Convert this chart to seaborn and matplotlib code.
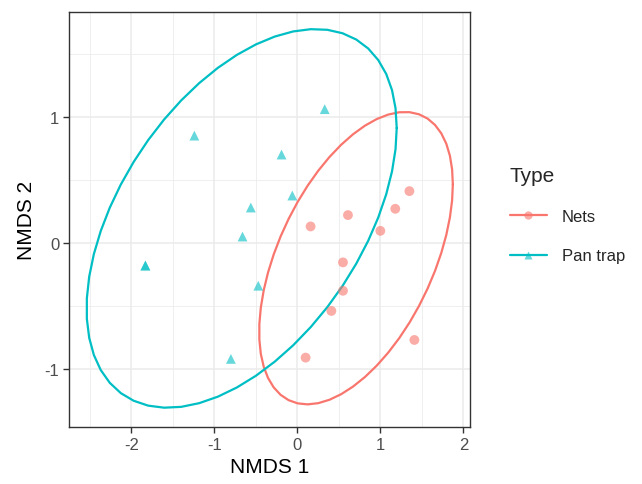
import numpy as np
import pandas as pd
import seaborn as sns
import matplotlib
matplotlib.use("Agg")
import matplotlib.pyplot as plt
from matplotlib.lines import Line2D
from matplotlib.ticker import MultipleLocator

# ---- data ----
nets_x = [1.35, 1.18, 0.61, 0.16, 1.00, 0.55, 0.55, 0.41, 1.41, 0.10]
nets_y = [0.41, 0.27, 0.22, 0.13, 0.095, -0.155, -0.38, -0.54, -0.77, -0.91]
pan_x = [0.33, -1.24, -0.19, -0.06, -0.56, -0.66, -1.83, -1.83, -0.47, -0.80]
pan_y = [1.06, 0.85, 0.70, 0.375, 0.28, 0.05, -0.18, -0.18, -0.34, -0.92]
types = ["Nets", "Pan trap"]
colors = {"Nets": "#F8766D", "Pan trap": "#00BFC4"}
x_ticks = [-2, -1, 0, 1, 2]
y_ticks = [-1, 0, 1]

df = pd.DataFrame({
    "NMDS1": nets_x + pan_x,
    "NMDS2": nets_y + pan_y,
    "Type": ["Nets"] * len(nets_x) + ["Pan trap"] * len(pan_x),
})


def cov_trob(x, nu=5, maxit=25, tol=0.01):
    n, p = x.shape
    wt = np.ones(n)
    loc = x.mean(axis=0)
    w = np.sqrt(wt)
    X = x - loc
    for _ in range(maxit):
        w0 = w
        X = x - loc
        _, d, vt = np.linalg.svd(np.sqrt(w / w.sum())[:, None] * X, full_matrices=False)
        wX = X @ vt.T @ np.diag(1 / d)
        Q = (wX ** 2).sum(axis=1)
        w = (wt * (nu + p)) / (nu + Q)
        loc = (w[:, None] * x).sum(axis=0) / w.sum()
        if np.all(np.abs(w - w0) < tol):
            break
    cov = (np.sqrt(w)[:, None] * X).T @ (np.sqrt(w)[:, None] * X) / wt.sum()
    return loc, cov


def ellipse(x, level=0.95, segments=51):
    n = x.shape[0]
    loc, cov = cov_trob(x)
    chol = np.linalg.cholesky(cov).T  # upper triangular like R chol
    dfn, dfd = 2, n - 1
    fq = dfd / dfn * ((1 - level) ** (-dfn / dfd) - 1)
    radius = np.sqrt(dfn * fq)
    ang = np.linspace(0, 2 * np.pi, segments + 1)
    circ = np.column_stack([np.cos(ang), np.sin(ang)])
    return loc + radius * (circ @ chol)


sns.set_theme(style="white")
plt.rcParams["font.family"] = ["Liberation Sans", "DejaVu Sans"]
plt.rcParams["axes.unicode_minus"] = False

fig = plt.figure(figsize=(6.42, 4.85), dpi=100)
ax = fig.add_axes([69 / 642, 1 - 428 / 485, (470 - 69) / 642, (428 - 13) / 485])

for t in types:
    sub = df[df.Type == t][["NMDS1", "NMDS2"]].to_numpy()
    e = ellipse(sub)
    ax.plot(e[:, 0], e[:, 1], color=colors[t], lw=1.6, zorder=3)

sns.scatterplot(data=df, x="NMDS1", y="NMDS2", hue="Type", style="Type",
                hue_order=types, style_order=types, palette=colors,
                markers={"Nets": "o", "Pan trap": "^"}, s=50, alpha=0.6,
                edgecolor="none", linewidth=0, legend=False, ax=ax, zorder=4)

ax.set_xlim(-2.75, 2.08)
ax.set_ylim(-1.46, 1.83)
ax.set_xticks(x_ticks)
ax.set_yticks(y_ticks)
ax.xaxis.set_minor_locator(MultipleLocator(0.5))
ax.yaxis.set_minor_locator(MultipleLocator(0.5))
ax.grid(which="major", color="#EBEBEB", lw=1.1)
ax.grid(which="minor", color="#EBEBEB", lw=0.55)
ax.set_axisbelow(True)
for sp in ax.spines.values():
    sp.set_color("#333333")
    sp.set_linewidth(1.0)
ax.tick_params(which="major", direction="out", length=4, width=1, color="#333333",
               labelsize=12, labelcolor="#4D4D4D", pad=3, bottom=True, left=True)
ax.tick_params(which="minor", length=0)
ax.set_xlabel("NMDS 1", fontsize=15, color="black", labelpad=4)
ax.set_ylabel("NMDS 2", fontsize=15, color="black", labelpad=6)

handles = [Line2D([0], [0], color=colors[t], lw=1.6,
                  marker=("o" if t == "Nets" else "^"), markersize=6,
                  markeredgecolor="none")
           for t in types]
for h, t in zip(handles, types):
    h.set_markerfacecolor(matplotlib.colors.to_rgba(colors[t], 0.6))
leg = fig.legend(handles, types, title="Type", loc="upper left",
                 bbox_to_anchor=(495 / 642, 1 - 152 / 485), frameon=False,
                 fontsize=12, title_fontsize=15, handlelength=2.2,
                 labelspacing=1.45, handletextpad=0.9)
leg._legend_box.align = "left"

fig.savefig("out.png", dpi=100)
